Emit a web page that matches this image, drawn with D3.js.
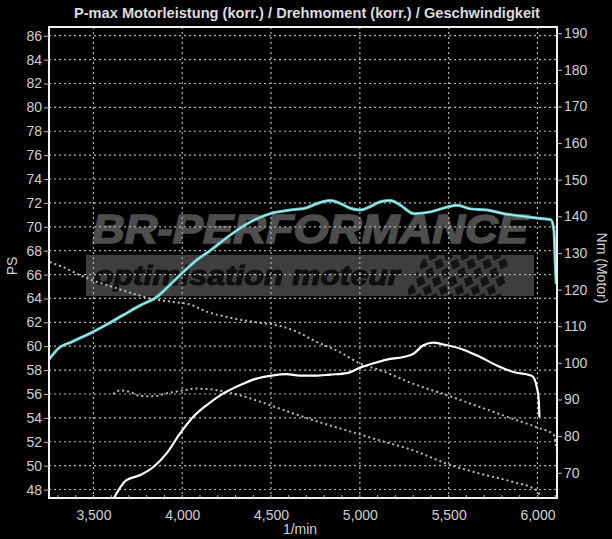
<!DOCTYPE html>
<html><head><meta charset="utf-8">
<script src="https://cdn.jsdelivr.net/npm/d3@7"></script>
<style>
html,body{margin:0;padding:0;background:#000;}
svg{display:block;}
text{font-family:"Liberation Sans",Arial,sans-serif;}
</style></head>
<body>
<script>
// ---- data ----
const title = "P-max Motorleistung (korr.) / Drehmoment (korr.) / Geschwindigkeit";
const xTicks = [3500, 4000, 4500, 5000, 5500, 6000];
const psTicks = [48,50,52,54,56,58,60,62,64,66,68,70,72,74,76,78,80,82,84,86];
const nmTicks = [70,80,90,100,110,120,130,140,150,160,170,180,190];

// Power (PS) - cyan
const powerRpm = [3250,3310,3376,3441,3498,3573,3667,3761,3855,3949,4005,4080,4157,4270,4383,4496,4609,4703,4759,4834,4890,4947,5003,5060,5116,5172,5229,5304,5398,5492,5548,5623,5717,5811,5905,6018,6075,6093,6100,6106];
const powerPS  = [58.9,59.9,60.35,60.8,61.2,61.8,62.6,63.4,64.1,65.4,66.2,67.2,68.0,69.3,70.4,71.1,71.4,71.6,71.95,72.2,71.95,71.55,71.4,71.7,72.1,72.2,71.8,71.1,71.25,71.65,71.8,71.5,71.4,71.1,70.9,70.7,70.6,69.7,66.9,65.2];

// Torque (Nm) - white
const torqueRpm = [3618,3684,3761,3836,3911,3986,4061,4136,4230,4324,4418,4512,4587,4662,4750,4833,4927,5002,5077,5152,5246,5302,5358,5414,5471,5583,5677,5771,5865,5959,5977,5996,6006,6011];
const torqueNm  = [63.3,67.9,69.3,71.5,75.2,80.6,85.2,88.4,91.6,93.9,95.7,96.6,96.9,96.5,96.5,96.8,97.2,98.7,99.9,100.9,101.6,102.5,104.8,105.5,105.0,103.6,101.6,99.3,97.5,96.6,96.1,93.4,90.6,85.2];

// Dotted curve A (upper)
const dotARpm = [3254,3348,3424,3498,3611,3724,3818,3949,4043,4137,4249,4418,4550,4662,4738,4888,5001,5114,5302,5490,5678,5865,5997,6090,6108];
const dotAPS  = [67.05,66.5,65.95,65.5,64.95,64.4,64.0,63.7,63.5,62.9,62.45,62.0,61.7,61.1,60.5,59.5,58.55,58.0,56.85,55.9,54.9,53.9,53.2,52.6,51.3];

// Dotted curve B (lower)
const dotBRpm = [3611,3650,3700,3761,3836,3911,3986,4081,4175,4287,4418,4550,4738,4926,5114,5302,5490,5678,5865,5997,6012];
const dotBPS  = [56.0,56.3,56.2,55.85,55.8,56.05,56.25,56.45,56.36,56.03,55.46,54.77,53.8,52.95,52.1,51.27,50.16,49.32,48.62,47.92,47.5];

// ---- layout ----
const W = 612, H = 539;
const L = 49, R = 557, T = 27, B = 498;

const svg = d3.select("body").append("svg").attr("width", W).attr("height", H)
  .style("background", "#000");

const x = d3.scaleLinear().domain([3250, 6110]).range([L, R]);
const yL = d3.scaleLinear().domain([47.29, 86.73]).range([B, T]);
const yR = d3.scaleLinear().domain([63.1, 191.7]).range([B, T]);

// ---- watermark ----
const wm = svg.append("g");
wm.append("text").attr("x", 92).attr("y", 243)
  .attr("textLength", 436).attr("lengthAdjust", "spacingAndGlyphs")
  .style("font-size", "41px").style("font-weight", "bold").style("font-style", "italic")
  .style("fill", "#4d4d4d").style("stroke", "#4d4d4d").style("stroke-width", "1.6")
  .text("BR-PERFORMANCE");
wm.append("rect").attr("x", 86).attr("y", 255).attr("width", 448).attr("height", 41)
  .attr("fill", "#3e3e3e");
// checker flag
const clip = svg.append("defs").append("clipPath").attr("id", "flagclip");
clip.append("path").attr("d", "M425,255 L534,255 L534,296 L405,296 Z");
const flag = wm.append("g").attr("clip-path", "url(#flagclip)");
const sq = 8;
for (let i = -2; i < 18; i++) {
  for (let j = -4; j < 10; j++) {
    if ((i + j) % 2 === 0) {
      flag.append("rect")
        .attr("x", 400 + i * sq).attr("y", 250 + j * sq)
        .attr("width", sq).attr("height", sq)
        .attr("fill", "#141414")
        .attr("transform", `rotate(-28 ${400 + i * sq} ${250 + j * sq}) skewX(-10)`);
    }
  }
}
wm.append("text").attr("x", 94).attr("y", 285)
  .attr("textLength", 306).attr("lengthAdjust", "spacingAndGlyphs")
  .style("font-size", "27px").style("font-weight", "bold").style("font-style", "italic")
  .style("fill", "#0e0e0e").style("stroke", "#0e0e0e").style("stroke-width", "1")
  .text("optimisation moteur");

// ---- grid ----
const grid = svg.append("g");
grid.selectAll("line.h").data(psTicks).join("line").attr("class", "h")
  .attr("x1", L).attr("x2", R).attr("y1", d => yL(d)).attr("y2", d => yL(d))
  .attr("stroke", "#b4b4b4").attr("stroke-width", 1.2).attr("stroke-dasharray", "2,3");
grid.selectAll("line.v").data(xTicks).join("line").attr("class", "v")
  .attr("x1", d => x(d)).attr("x2", d => x(d)).attr("y1", T).attr("y2", B)
  .attr("stroke", "#b4b4b4").attr("stroke-width", 1.2).attr("stroke-dasharray", "2,3");

// ---- lines ----
const curve = d3.curveMonotoneX;
function zip(a, b) { return a.map((v, i) => [v, b[i]]); }
const lineL = d3.line().x(d => x(d[0])).y(d => yL(d[1])).curve(curve);
const lineR = d3.line().x(d => x(d[0])).y(d => yR(d[1])).curve(curve);

svg.append("path").datum(zip(dotARpm, dotAPS)).attr("d", lineL)
  .attr("fill", "none").attr("stroke", "#b8b8b8").attr("stroke-width", 2).attr("stroke-dasharray", "2,3");
svg.append("path").datum(zip(dotBRpm, dotBPS)).attr("d", lineL)
  .attr("fill", "none").attr("stroke", "#b8b8b8").attr("stroke-width", 2).attr("stroke-dasharray", "2,3");

svg.append("path").datum(zip(torqueRpm, torqueNm)).attr("d", lineR)
  .attr("fill", "none").attr("stroke", "#ffffff").attr("stroke-width", 2.2);

svg.append("path").datum(zip(powerRpm, powerPS)).attr("d", lineL)
  .attr("fill", "none").attr("stroke", "#5fc8c8").attr("stroke-width", 3);
svg.append("path").datum(zip(powerRpm, powerPS)).attr("d", lineL)
  .attr("fill", "none").attr("stroke", "#c8f4f4").attr("stroke-width", 1);

// ---- frame ----
svg.append("rect").attr("x", L).attr("y", T).attr("width", R - L).attr("height", B - T)
  .attr("fill", "none").attr("stroke", "#f0f0f0").attr("stroke-width", 2);

// ---- axes ----
const axL = svg.append("g").attr("transform", `translate(${L},0)`)
  .call(d3.axisLeft(yL).tickValues(psTicks).tickSize(5).tickPadding(2).tickFormat(d3.format("d")));
const axR = svg.append("g").attr("transform", `translate(${R},0)`)
  .call(d3.axisRight(yR).tickValues(nmTicks).tickSize(5).tickPadding(2).tickFormat(d3.format("d")));
const axB = svg.append("g").attr("transform", `translate(0,${B})`)
  .call(d3.axisBottom(x).tickValues(xTicks).tickSize(0).tickPadding(12).tickFormat(d3.format(",")));
// minor ticks on bottom (inside)
svg.append("g").selectAll("line").data(d3.range(3300, 6101, 100)).join("line")
  .attr("x1", d => x(d)).attr("x2", d => x(d)).attr("y1", B - 3).attr("y2", B)
  .attr("stroke", "#bbb").attr("stroke-width", 1);

[axL, axR, axB].forEach(a => {
  a.select(".domain").remove();
  a.selectAll(".tick line").attr("stroke", "#bbb");
  a.selectAll(".tick text").attr("fill", "#d0d0d0").style("font-size", "14px")
    .style("font-family", "'Liberation Sans Narrow','Liberation Sans',Arial,sans-serif");
});

// ---- labels ----
svg.append("text").attr("x", 307).attr("y", 18).attr("text-anchor", "middle")
  .attr("textLength", 466).attr("lengthAdjust", "spacingAndGlyphs")
  .style("font-size", "14px").style("font-weight", "bold").attr("fill", "#dcdcdc").text(title);
svg.append("text").attr("transform", "translate(17,266) rotate(-90)").attr("text-anchor", "middle")
  .style("font-size", "14px").attr("fill", "#d0d0d0").text("PS");
svg.append("text").attr("transform", "translate(597,268) rotate(90)").attr("text-anchor", "middle")
  .style("font-size", "14px").attr("fill", "#d0d0d0").text("Nm (Motor)");
svg.append("text").attr("x", 300).attr("y", 534).attr("text-anchor", "middle")
  .style("font-size", "14px").attr("fill", "#d0d0d0")
  .style("font-family", "'Liberation Sans Narrow','Liberation Sans',Arial,sans-serif").text("1/min");
</script>
</body></html>
